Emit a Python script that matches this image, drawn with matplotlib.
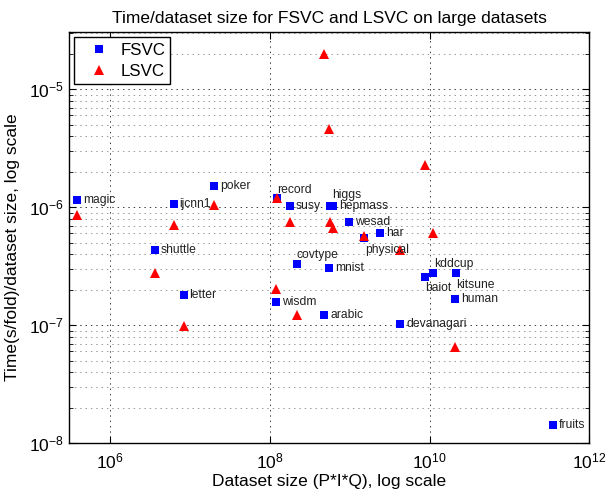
import numpy as np
import matplotlib
matplotlib.use("Agg")
import matplotlib.pyplot as plt
from matplotlib.ticker import LogLocator, NullLocator, NullFormatter

plt.rcParams.update({
    "font.family": ["Liberation Sans", "DejaVu Sans"],
    "mathtext.default": "regular",
    "font.size": 12,
})

# ── data ────────────────────────────────────────────────────────────────────
NAMES = ["magic", "ijcnn1", "poker", "shuttle", "letter", "record", "susy",
         "higgs", "hepmass", "wesad", "har", "physical", "covtype", "mnist",
         "wisdm", "arabic", "devanagari", "kddcup", "baiot", "kitsune",
         "human", "fruits"]
DATASET_SIZE = [3.84e5, 6.25e6, 2.01e7, 3.65e6, 8.34e6, 1.25e8, 1.79e8,
                5.71e8, 6.13e8, 9.9e8, 2.42e9, 1.51e9, 2.19e8, 5.47e8,
                1.21e8, 4.79e8, 4.3e9, 1.1e10, 8.84e9, 2.16e10,
                2.1e10, 3.48e11]
FSVC = [1.15e-6, 1.06e-6, 1.51e-6, 4.35e-7, 1.79e-7, 1.19e-6, 1.03e-6,
        1.03e-6, 1.03e-6, 7.46e-7, 6.1e-7, 5.52e-7, 3.29e-7, 3.08e-7,
        1.58e-7, 1.22e-7, 1.03e-7, 2.77e-7, 2.57e-7, 2.77e-7,
        1.67e-7, 1.42e-8]
LSVC = [8.6e-7, 7.08e-7, 1.04e-6, 2.79e-7, 9.87e-8, 1.2e-6, 7.55e-7,
        7.55e-7, 6.64e-7, np.nan, np.nan, 5.74e-7, 1.22e-7, 4.58e-6,
        2.02e-7, 1.99e-5, 4.35e-7, 6.03e-7, 2.28e-6, np.nan,
        6.59e-8, np.nan]

# label placement (pixel offsets from the FSVC square)
LABEL_POS = {
    "record":   (0, 8),
    "higgs":    (2, 11),
    "physical": (1, -12),
    "covtype":  (0, 9),
    "kddcup":   (1, 9),
    "baiot":    (0, -11),
    "kitsune":  (0, -12),
}

fig = plt.figure(figsize=(6.06, 4.94), dpi=100)
ax = fig.add_axes([0.1139, 0.1026, 0.8585, 0.832])

ax.plot(DATASET_SIZE, FSVC, "s", color="blue", markersize=5.2,
        markeredgewidth=0, label="FSVC", zorder=3)
ax.plot(DATASET_SIZE, LSVC, "^", color="red", markersize=7.2,
        markeredgewidth=0, label="LSVC", zorder=4)

for name, x, y in zip(NAMES, DATASET_SIZE, FSVC):
    dx, dy = LABEL_POS.get(name, (6, 0))
    ax.annotate(name, (x, y), xytext=(dx, dy), textcoords="offset pixels",
                ha="left", va="center", fontsize=8.7, color="#222222",
                zorder=5)

ax.set_xscale("log")
ax.set_yscale("log")
ax.set_xlim(10 ** 5.4875, 1e12)
ax.set_ylim(1e-8, 10 ** -4.517)
ax.set_xticks([1e6, 1e8, 1e10, 1e12])
ax.xaxis.set_minor_locator(NullLocator())
ax.set_yticks([1e-8, 1e-7, 1e-6, 1e-5])
ax.yaxis.set_minor_locator(LogLocator(base=10, subs=np.arange(2, 10)))
ax.yaxis.set_minor_formatter(NullFormatter())

ax.tick_params(which="both", direction="in", top=True, right=True,
               labelsize=12.5)
ax.tick_params(axis="x", pad=6)
ax.tick_params(which="major", length=5, width=0.8)
ax.tick_params(which="minor", length=3, width=0.6)

ax.grid(which="major", color="0.25", linestyle=(0, (1.5, 4)), linewidth=0.7)
ax.grid(which="minor", axis="y", color="0.6", linestyle=(0, (1.5, 4)),
        linewidth=0.7)
ax.set_axisbelow(True)
for s in ax.spines.values():
    s.set_linewidth(1.0)

ax.set_xlabel("Dataset size (P*I*Q), log scale", fontsize=12.5, labelpad=2)
ax.set_ylabel("Time(s/fold)/dataset size, log scale", fontsize=12.5)
ax.yaxis.set_label_coords(-0.095, 0.477)
ax.set_title("Time/dataset size for FSVC and LSVC on large datasets",
             fontsize=12.5, pad=7)

leg = ax.legend(loc="upper left", numpoints=1, fontsize=12.2, fancybox=False,
                framealpha=1, edgecolor="black", borderaxespad=0.3,
                handlelength=2.3, handletextpad=0.1, borderpad=0.32,
                labelspacing=0.35)
leg.get_frame().set_linewidth(1.0)

fig.savefig("out.png", dpi=100)
